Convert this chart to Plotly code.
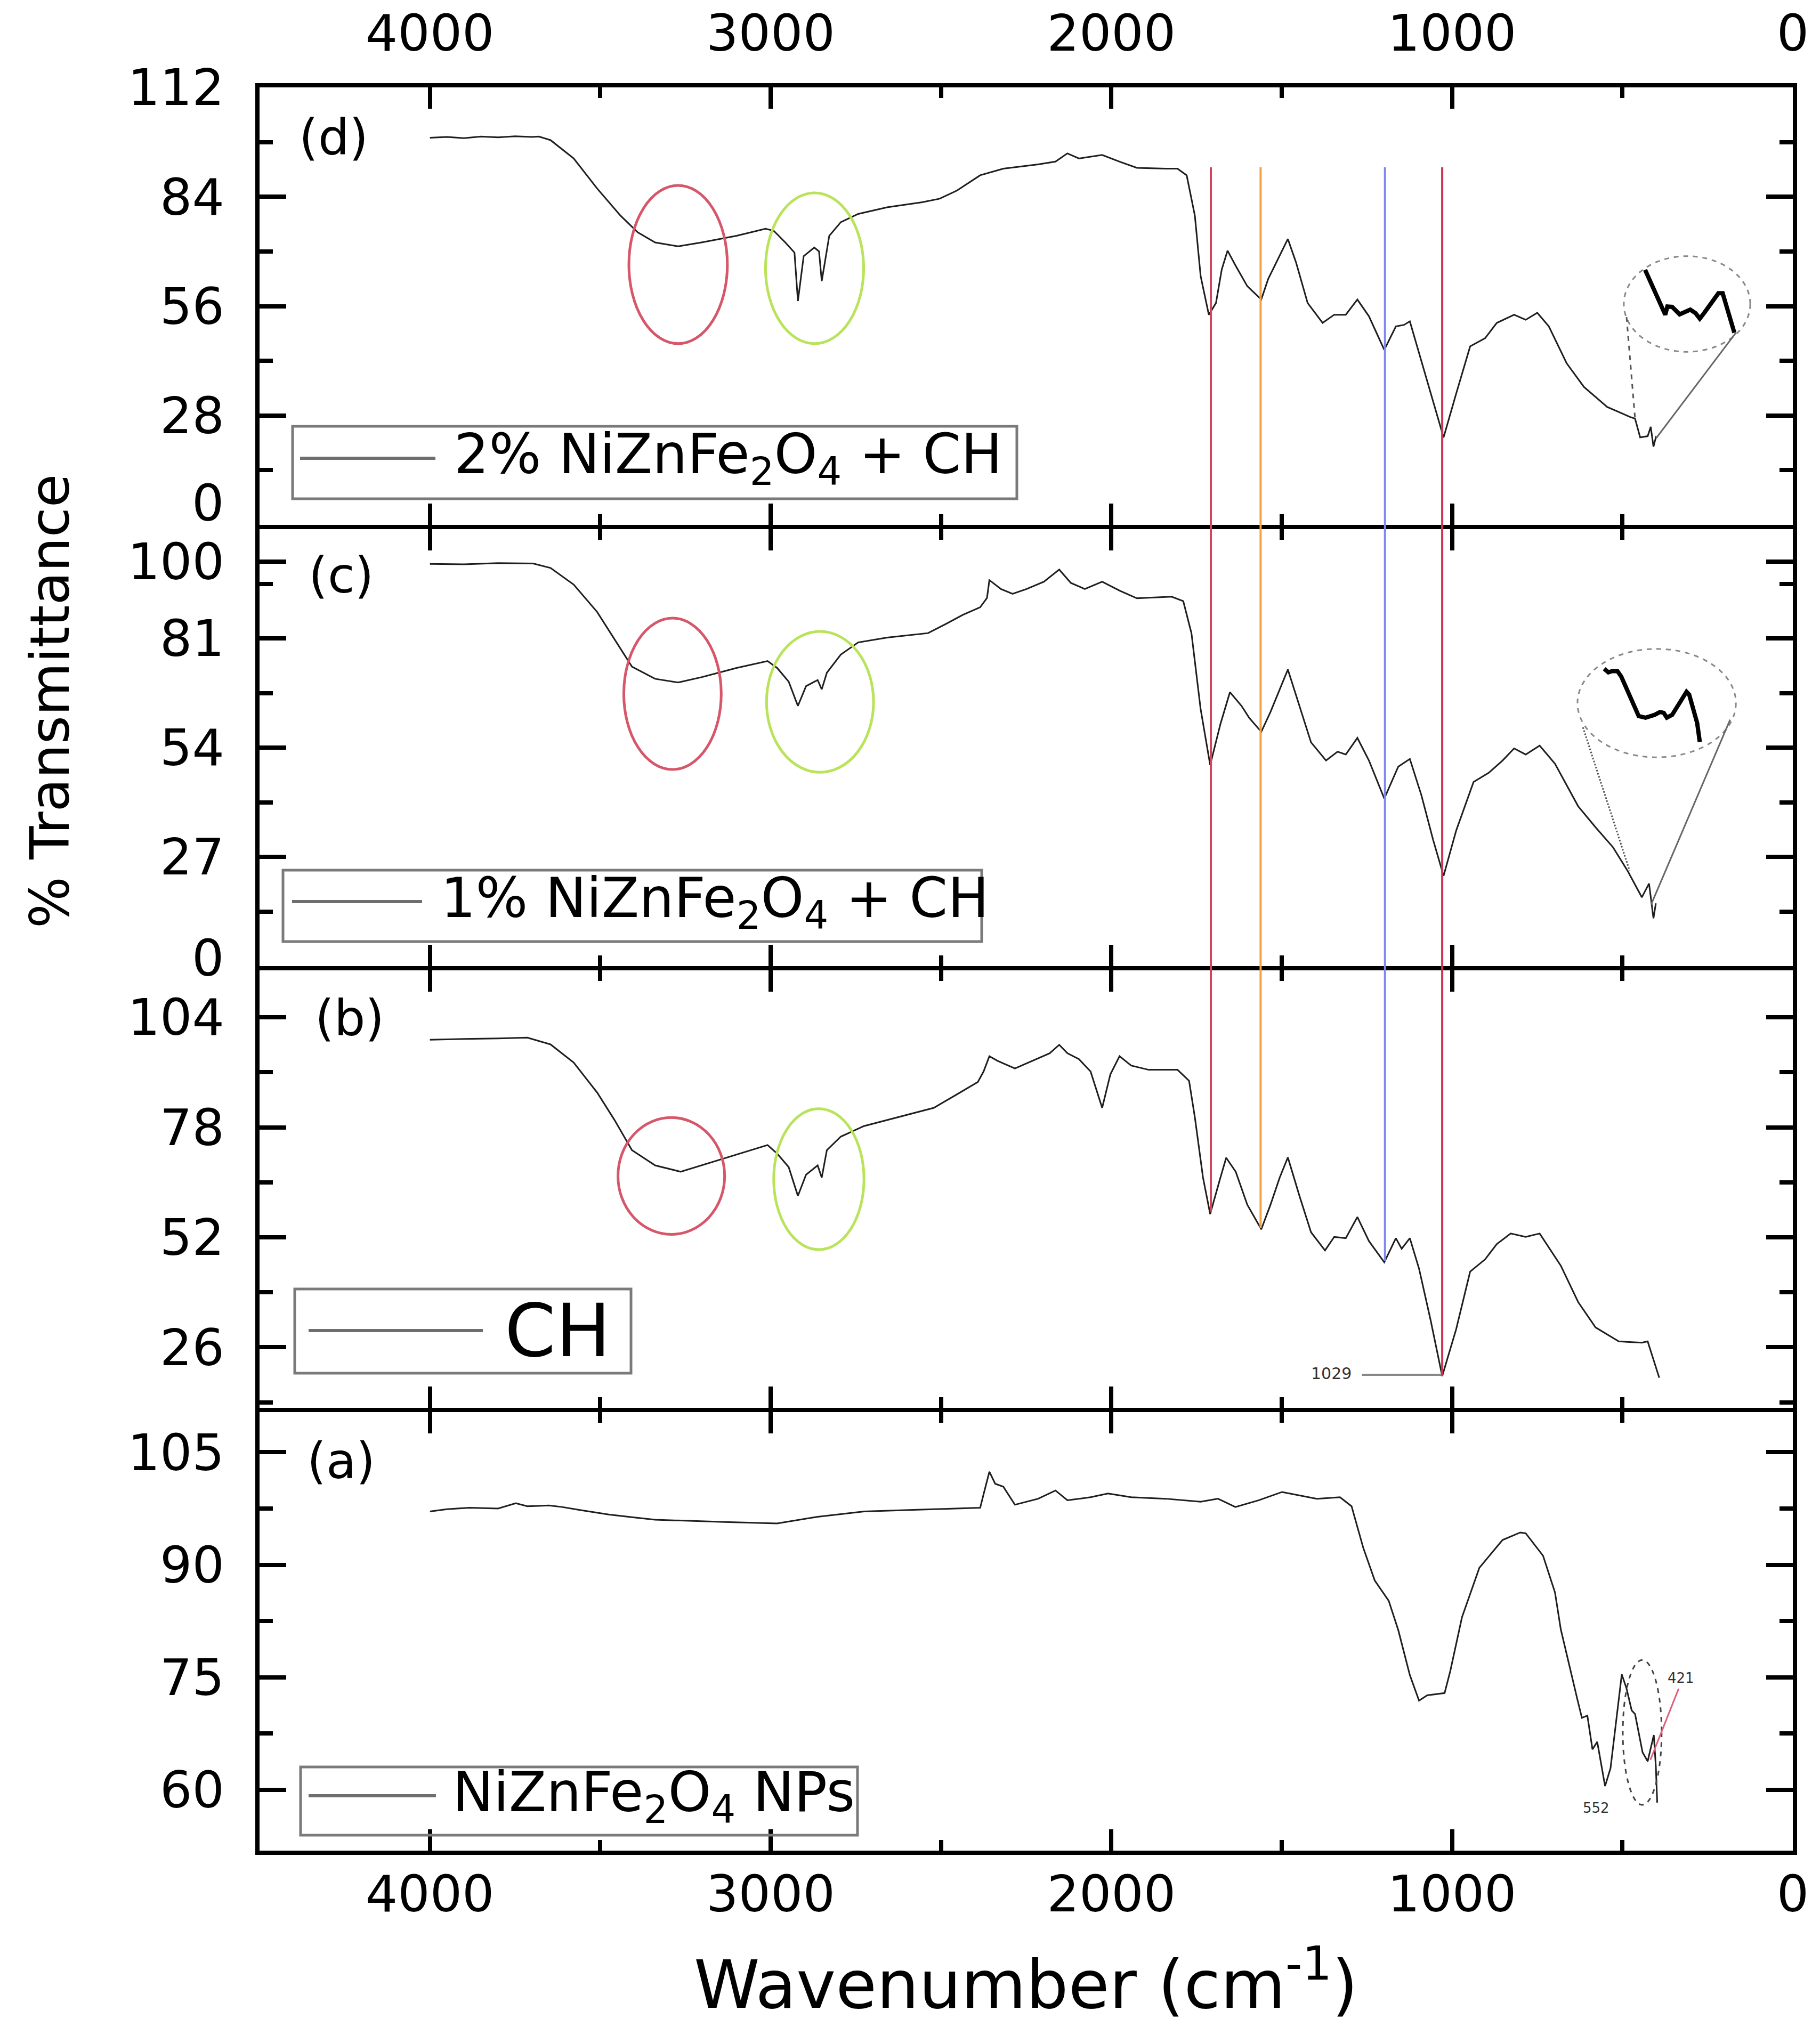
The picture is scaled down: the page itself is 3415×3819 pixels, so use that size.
import numpy as np
import plotly.graph_objects as go
from plotly.subplots import make_subplots

# ---------------- data ----------------
# (d) 2% NiZnFe2O4 + CH
wn_d = [4000, 3950, 3900, 3850, 3800, 3750, 3700, 3680, 3646, 3578, 3509, 3441, 3390, 3339, 3271, 3203,
        3100, 3015, 2991, 2957, 2930, 2920, 2903, 2872, 2858, 2850, 2828, 2794, 2743, 2658, 2555, 2504,
        2453, 2385, 2317, 2215, 2164, 2129, 2095, 2061, 2027, 1976, 1925, 1840, 1806, 1779, 1755, 1738,
        1714, 1693, 1676, 1659, 1635, 1601, 1560, 1540, 1506, 1482, 1458, 1424, 1380, 1346, 1312, 1278,
        1244, 1199, 1165, 1141, 1124, 1097, 1063, 1025, 988, 947, 903, 869, 818, 784, 750, 716, 664, 613,
        545, 477, 463, 448, 426, 417, 409, 401]
t_d = [99.1, 99.3, 99.0, 99.4, 99.2, 99.5, 99.3, 99.4, 98.5, 93.8, 86.1, 79.2, 74.9, 72.3, 71.3, 72.3,
       74.0, 75.8, 75.3, 72.3, 69.7, 57.3, 68.8, 71.0, 70.0, 62.4, 74.0, 77.5, 79.6, 81.3, 82.6, 83.5,
       85.6, 89.5, 91.2, 92.3, 93.0, 95.1, 93.8, 94.2, 94.7, 93.0, 91.4, 91.2, 91.2, 89.5, 79.2, 63.7,
       53.8, 56.8, 65.4, 70.2, 66.3, 61.1, 57.7, 62.9, 68.9, 73.2, 67.2, 56.8, 51.7, 53.8, 53.8, 57.7,
       53.4, 44.8, 50.8, 51.2, 52.1, 43.9, 33.6, 22.4, 33.6, 45.7, 47.8, 51.7, 53.8, 52.5, 54.3, 50.8,
       41.4, 35.3, 30.2, 27.6, 27.2, 22.4, 22.7, 25.1, 20.0, 22.7]

# (c) 1% NiZnFe2O4 + CH
wn_c = [4000, 3900, 3800, 3697, 3646, 3578, 3509, 3458, 3407, 3339, 3271, 3203, 3100, 3009, 2981, 2947,
        2920, 2896, 2862, 2850, 2835, 2794, 2743, 2658, 2538, 2487, 2436, 2385, 2365, 2358, 2324, 2290,
        2249, 2198, 2153, 2119, 2078, 2027, 1976, 1925, 1823, 1789, 1765, 1738, 1710, 1680, 1652, 1618,
        1595, 1560, 1533, 1482, 1448, 1414, 1370, 1336, 1312, 1278, 1244, 1199, 1158, 1124, 1090, 1056,
        1025, 988, 937, 892, 852, 818, 784, 743, 698, 630, 579, 528, 484, 443, 422, 409, 402]
t_c = [99.4, 99.3, 99.6, 99.5, 98.4, 94.3, 87.5, 80.8, 74.0, 71.0, 70.1, 71.4, 73.7, 75.4, 73.7, 70.3,
       64.3, 69.2, 70.7, 68.4, 72.5, 77.0, 80.0, 81.2, 82.3, 84.5, 86.8, 88.7, 91.0, 95.4, 93.2, 92.0,
       93.2, 95.0, 98.0, 94.7, 93.2, 95.0, 92.8, 90.9, 91.3, 90.2, 82.3, 63.5, 49.7, 59.8, 67.7, 64.3,
       61.3, 57.9, 62.8, 73.3, 64.3, 55.3, 50.8, 53.0, 52.3, 56.4, 50.8, 41.4, 49.3, 51.2, 42.2, 31.3,
       22.3, 33.5, 45.5, 47.8, 50.8, 53.8, 52.3, 54.5, 50.0, 39.5, 34.3, 29.4, 23.4, 17.0, 20.4, 11.8, 15.5]

# (b) CH
wn_b = [4000, 3900, 3800, 3714, 3646, 3578, 3509, 3458, 3407, 3339, 3264, 3203, 3100, 3009, 2981, 2947,
        2920, 2896, 2862, 2850, 2835, 2794, 2726, 2624, 2521, 2453, 2392, 2375, 2358, 2334, 2283, 2232,
        2181, 2153, 2129, 2095, 2061, 2027, 2003, 1976, 1942, 1891, 1806, 1772, 1755, 1731, 1710, 1680,
        1663, 1635, 1601, 1560, 1533, 1506, 1482, 1448, 1414, 1373, 1346, 1312, 1278, 1244, 1199, 1165,
        1148, 1124, 1097, 1063, 1029, 988, 947, 903, 869, 828, 784, 743, 681, 630, 579, 511, 443, 426,
        409, 392]
t_b = [98.7, 98.9, 99.0, 99.2, 97.6, 93.3, 86.2, 79.7, 72.6, 69.0, 67.5, 69.0, 71.5, 73.8, 71.8, 68.6,
       61.8, 66.8, 69.0, 66.1, 72.6, 75.8, 78.3, 80.4, 82.6, 85.8, 88.7, 91.2, 94.8, 93.7, 91.9, 93.7,
       95.5, 97.5, 95.5, 94.1, 91.2, 82.6, 90.5, 94.8, 92.6, 91.6, 91.6, 89.0, 80.4, 66.1, 57.5, 66.1,
       70.8, 67.5, 59.7, 53.9, 59.7, 66.1, 70.9, 61.8, 53.2, 48.9, 52.1, 51.8, 56.8, 51.1, 46.1, 51.8,
       49.3, 51.8, 44.6, 32.4, 19.2, 30.3, 43.9, 46.8, 50.4, 52.9, 52.1, 52.9, 45.3, 36.7, 30.7, 27.4,
       27.1, 27.4, 23.1, 18.8]

# (a) NiZnFe2O4 NPs
wn_a = [4000, 3950, 3884, 3800, 3748, 3714, 3650, 3612, 3560, 3475, 3400, 3339, 3135, 2981, 2862, 2726,
        2521, 2385, 2375, 2358, 2341, 2317, 2283, 2215, 2164, 2129, 2061, 2010, 1942, 1840, 1738, 1687,
        1636, 1567, 1499, 1397, 1329, 1295, 1261, 1227, 1186, 1158, 1124, 1097, 1073, 1022, 1005, 971,
        920, 852, 800, 784, 733, 698, 681, 655, 632, 619, 603, 588, 574, 551, 535, 502, 488, 473, 463,
        441, 426, 408, 402, 398]
t_a = [97.1, 97.4, 97.6, 97.5, 98.2, 97.8, 97.9, 97.7, 97.3, 96.7, 96.3, 96.0, 95.7, 95.5, 96.4, 97.1,
       97.4, 97.6, 99.4, 102.4, 100.8, 100.4, 98.0, 98.8, 99.9, 98.6, 99.0, 99.5, 99.0, 98.8, 98.4, 98.8,
       97.7, 98.6, 99.7, 98.8, 99.0, 97.8, 92.3, 87.9, 85.2, 81.3, 75.3, 71.9, 72.6, 72.9, 75.9, 83.0,
       89.6, 93.3, 94.3, 94.2, 91.2, 86.3, 81.4, 76.3, 72.0, 69.6, 69.9, 65.4, 66.4, 60.5, 62.9, 75.4,
       73.5, 70.6, 70.1, 65.0, 63.8, 67.3, 63.1, 58.3]

# magnified insets (drawn in panel units)
inset_d_wn = [433.6, 374.4, 368.1, 354.1, 332.2, 316.6, 301.0, 285.4, 273.0, 260.5, 218.4, 205.9, 171.6]
inset_d_t = [65.3, 53.8, 55.9, 55.8, 53.9, 54.6, 55.1, 54.2, 52.8, 54.2, 59.3, 59.3, 49.2]
inset_c_wn = [553.7, 541.3, 530.3, 514.7, 503.8, 452.3, 432.1, 405.6, 390.0, 379.0, 369.7, 354.1, 312.0,
              304.2, 280.8, 273.0]
inset_c_t = [73.5, 72.6, 72.9, 72.9, 71.6, 61.8, 61.4, 62.1, 62.8, 62.6, 61.4, 62.1, 67.8, 67.1, 60.1, 55.4]

# band markers
marker_wn = [1708, 1562, 1197, 1029]
marker_colors = ["#d2455c", "#f3a24a", "#7f88ee", "#cc3550"]

# ticks
x_major = [0, 1000, 2000, 3000, 4000]
x_minor = [500, 1500, 2500, 3500]
y_ticks = {1: [28, 56, 84, 112], 2: [27, 54, 81, 100], 3: [26, 52, 78, 104], 4: [60, 75, 90, 105]}
y_minor = {1: [14, 42, 70, 98], 2: [13.5, 40.5, 67.5, 94.5], 3: [13, 39, 65, 91], 4: [67.5, 82.5, 97.5]}
y_ranges = {1: [0, 112], 2: [0, 108], 3: [11.7, 115.1], 4: [51.9, 110.35]}
legend_texts = ["2% NiZnFe<sub>2</sub>O<sub>4</sub> + CH", "1% NiZnFe<sub>2</sub>O<sub>4</sub> + CH", "CH",
                "NiZnFe<sub>2</sub>O<sub>4</sub> NPs"]
panel_tags = ["(d)", "(c)", "(b)", "(a)"]

# ---------------- figure ----------------
W, H = 3415, 3819
ML, MR, MT, MB = 479, 59, 156, 354
PW, PH = W - ML - MR, H - MT - MB
FONT = "DejaVu Sans"
LW = 8


def pp(x, y):
    """full-image pixel -> paper coordinates"""
    return (x - ML) / PW, (H - MB - y) / PH


# panel pixel bands (top, bottom); an 8 px gap lets adjacent frame lines coincide
bands = {1: (156, 977), 2: (985, 1805), 3: (1813, 2634), 4: (2642, 3465)}

fig = make_subplots(rows=4, cols=1, shared_xaxes=False, vertical_spacing=0.01)
series = [(wn_d, t_d), (wn_c, t_c), (wn_b, t_b), (wn_a, t_a)]
for row, (w, t) in enumerate(series, start=1):
    fig.add_trace(go.Scatter(x=w, y=t, mode="lines", line=dict(color="#1e1e1e", width=3),
                             name=legend_texts[row - 1], showlegend=False, hoverinfo="skip"), row=row, col=1)

fig.add_trace(go.Scatter(x=inset_d_wn, y=inset_d_t, mode="lines", line=dict(color="black", width=8),
                         showlegend=False, hoverinfo="skip"), row=1, col=1)
fig.add_trace(go.Scatter(x=inset_c_wn, y=inset_c_t, mode="lines", line=dict(color="black", width=8),
                         showlegend=False, hoverinfo="skip"), row=2, col=1)

tickfont = dict(family=FONT, size=95, color="black")
for row in range(1, 5):
    top, bot = bands[row]
    dom = [pp(0, bot)[1], pp(0, top)[1]]
    fig.update_xaxes(row=row, col=1, range=[4500, 0], showline=True, linewidth=LW, linecolor="black",
                     mirror="allticks", ticks="inside", ticklen=40, tickwidth=8, tickcolor="black",
                     tickmode="array", tickvals=x_major, ticktext=[str(v) for v in x_major],
                     minor=dict(ticks="inside", ticklen=20, tickwidth=8, tickcolor="black",
                                tickmode="array", tickvals=x_minor),
                     showgrid=False, zeroline=False, tickfont=tickfont,
                     showticklabels=(row in (1, 4)))
    fig.update_yaxes(row=row, col=1, range=y_ranges[row], domain=dom, showline=True, linewidth=LW,
                     linecolor="black", mirror="allticks", ticks="inside", ticklen=50, tickwidth=8,
                     tickcolor="black", tickmode="array", tickvals=y_ticks[row],
                     ticktext=[str(v) for v in y_ticks[row]],
                     minor=dict(ticks="inside", ticklen=25, tickwidth=8, tickcolor="black",
                                tickmode="array", tickvals=y_minor[row]),
                     showgrid=False, zeroline=False, tickfont=tickfont, ticklabelstandoff=39)
fig.update_xaxes(row=1, col=1, side="top", ticklabelstandoff=23)
fig.update_xaxes(row=4, col=1, ticklabelstandoff=-8)

shapes = []
annotations = []
axref = {1: ("x", "y"), 2: ("x2", "y2"), 3: ("x3", "y3"), 4: ("x4", "y4")}

# red / green ellipses (O-H and C-H regions)
ellipses = {1: [(3416, 3127, 46.4, 86.9, "#d6566a"), (3015, 2727, 46.4, 85.0, "#b9e35a")],
            2: [(3431, 3145, 48.6, 86.0, "#d6566a"), (3012, 2698, 47.9, 82.7, "#b9e35a")],
            3: [(3448, 3135, 52.7, 80.3, "#d6566a"), (2991, 2726, 49.1, 82.4, "#b9e35a")]}
for row, lst in ellipses.items():
    xr, yr = axref[row]
    for x0, x1, y0, y1, c in lst:
        shapes.append(dict(type="circle", xref=xr, yref=yr, x0=x0, x1=x1, y0=y0, y1=y1,
                           line=dict(color=c, width=5)))

# magnifier ellipses + cones
shapes += [
    dict(type="circle", xref="x", yref="y", x0=496, x1=125, y0=44.3, y1=68.8,
         line=dict(color="#888888", width=3, dash="dash")),
    dict(type="line", xref="x", yref="y", x0=488, y0=53.2, x1=463, y1=27.2,
         line=dict(color="#555555", width=3, dash="dash")),
    dict(type="line", xref="x", yref="y", x0=167, y0=49.2, x1=401, y1=22.2,
         line=dict(color="#666666", width=3)),
    dict(type="circle", xref="x2", yref="y2", x0=632, x1=167, y0=51.6, y1=78.4,
         line=dict(color="#888888", width=3, dash="dash")),
    dict(type="line", xref="x2", yref="y2", x0=616, y0=59.0, x1=479, y1=23.6,
         line=dict(color="#555555", width=3, dash="dot")),
    dict(type="line", xref="x2", yref="y2", x0=184, y0=60.9, x1=416, y1=15.2,
         line=dict(color="#666666", width=3)),
    dict(type="circle", xref="x4", yref="y4", x0=499, x1=385, y0=58.0, y1=77.3,
         line=dict(color="#444444", width=3, dash="dash")),
    dict(type="line", xref="x4", yref="y4", x0=335, y0=73.5, x1=418, y1=64.0,
         line=dict(color="#e0607a", width=3)),
    dict(type="line", xref="x3", yref="y3", x0=1265, y0=19.5, x1=1026, y1=19.5,
         line=dict(color="#888888", width=4)),
]

# vertical band markers: from the top of panel (d) down to the CH curve (panel b)
dom_b = fig.layout.yaxis3.domain
top_paper = pp(0, 306)[1]
for wn, col in zip(marker_wn, marker_colors):
    vb = float(np.interp(wn, wn_b[::-1], t_b[::-1]))
    yb = dom_b[0] + (vb - y_ranges[3][0]) / (y_ranges[3][1] - y_ranges[3][0]) * (dom_b[1] - dom_b[0])
    shapes.append(dict(type="line", xref="x", yref="paper", x0=wn, x1=wn, y0=top_paper, y1=yb,
                       line=dict(color=col, width=4)))

# legend boxes
legend_boxes = [(541, 792, 1900, 928, 555, 809, 852, 842, 103),
                (523, 1625, 1834, 1759, 540, 784, 1684, 817, 103),
                (545, 2411, 1176, 2569, 571, 898, 2489, 937, 137),
                (556, 3308, 1601, 3436, 571, 810, 3362, 839, 103)]
for (bx0, by0, bx1, by1, lx0, lx1, ly, tx, fs), txt in zip(legend_boxes, legend_texts):
    a0, b0 = pp(bx0, by0)
    a1, b1 = pp(bx1, by1)
    shapes.append(dict(type="rect", xref="paper", yref="paper", x0=a0, y0=b0, x1=a1, y1=b1,
                       line=dict(color="#7a7a7a", width=5), fillcolor="rgba(0,0,0,0)"))
    c0, d0 = pp(lx0, ly)
    c1, _ = pp(lx1, ly)
    shapes.append(dict(type="line", xref="paper", yref="paper", x0=c0, y0=d0, x1=c1, y1=d0,
                       line=dict(color="#6e6e6e", width=6)))
    e0, _ = pp(tx, ly)
    annotations.append(dict(text=txt, xref="paper", yref="paper", x=e0, y=d0, xanchor="left",
                            yanchor="middle", showarrow=False, font=dict(family=FONT, size=fs, color="black")))

# panel tags
for tag, (tx, ty) in zip(panel_tags, [(618, 251), (632, 1072), (648, 1903), (632, 2734)]):
    a, b = pp(tx, ty)
    annotations.append(dict(text=tag, xref="paper", yref="paper", x=a, y=b, xanchor="center",
                            yanchor="middle", showarrow=False, font=dict(family=FONT, size=92, color="black")))

# '0' labels of panels (d) and (c) (the frame line sits on them)
for ty in (936, 1790):
    a, b = pp(414, ty)
    annotations.append(dict(text="0", xref="paper", yref="paper", x=a, y=b, xanchor="right",
                            yanchor="middle", showarrow=False, font=tickfont))

# small peak labels
annotations += [
    dict(text="1029", xref="x3", yref="y3", x=1355, y=19.8, showarrow=False,
         font=dict(family=FONT, size=30, color="#333333")),
    dict(text="421", xref="x4", yref="y4", x=328, y=74.9, showarrow=False,
         font=dict(family=FONT, size=26, color="#333333")),
    dict(text="552", xref="x4", yref="y4", x=577, y=57.6, showarrow=False,
         font=dict(family=FONT, size=26, color="#333333")),
]

# axis titles
a, b = pp(85, 1308)
annotations.append(dict(text="% Transmittance", xref="paper", yref="paper", x=a, y=b, textangle=-90,
                        xanchor="center", yanchor="middle", showarrow=False,
                        font=dict(family=FONT, size=102, color="black")))
a, b = pp(1917, 3708)
annotations.append(dict(text="Wavenumber (cm<sup>-1</sup>)", xref="paper", yref="paper", x=a, y=b,
                        xanchor="center", yanchor="middle", showarrow=False,
                        font=dict(family=FONT, size=125, color="black")))

fig.update_layout(width=W, height=H, margin=dict(l=ML, r=MR, t=MT, b=MB, autoexpand=False),
                  paper_bgcolor="white", plot_bgcolor="white", showlegend=False,
                  shapes=shapes, annotations=annotations, font=dict(family=FONT, color="black"))

fig.write_html("out.html")
